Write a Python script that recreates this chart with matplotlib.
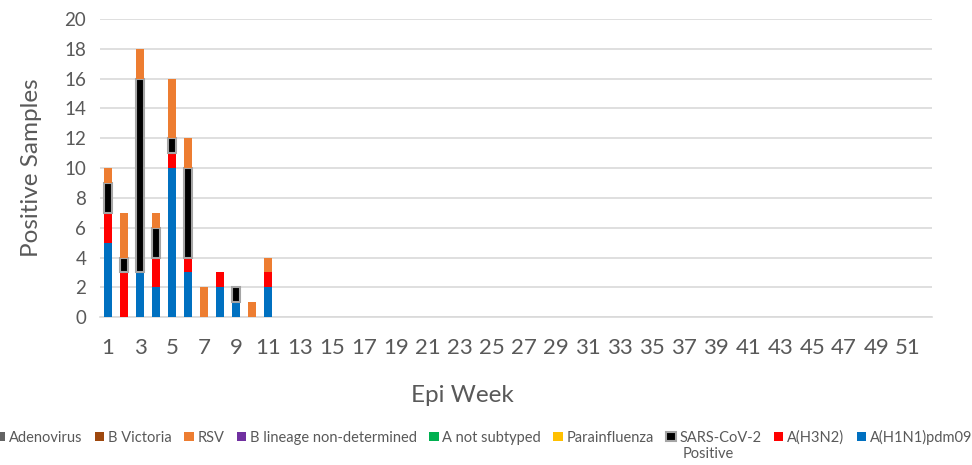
import numpy as np
import matplotlib
matplotlib.use('Agg')
import matplotlib.pyplot as plt

plt.rcParams['font.family'] = ['Lato', 'DejaVu Sans']

# epi weeks shown on the axis (1..52), samples reported for weeks 1-11
n_weeks = 52
weeks = [1, 2, 3, 4, 5, 6, 7, 8, 9, 10, 11]

h1n1 = [5, 0, 3, 2, 10, 3, 0, 2, 1, 0, 2]
h3n2 = [2, 3, 0, 2, 1, 1, 0, 1, 0, 0, 1]
sars = [2, 1, 13, 2, 1, 6, 0, 0, 1, 0, 0]
parainfluenza = [0, 0, 0, 0, 0, 0, 0, 0, 0, 0, 0]
a_not_subtyped = [0, 0, 0, 0, 0, 0, 0, 0, 0, 0, 0]
b_lineage_nd = [0, 0, 0, 0, 0, 0, 0, 0, 0, 0, 0]
rsv = [1, 3, 2, 1, 4, 2, 2, 0, 0, 1, 1]
b_victoria = [0, 0, 0, 0, 0, 0, 0, 0, 0, 0, 0]
adenovirus = [0, 0, 0, 0, 0, 0, 0, 0, 0, 0, 0]

# stacked bottom -> top
series = [
    ('A(H1N1)pdm09', h1n1, '#0070C0', None),
    ('A(H3N2)', h3n2, '#FF0000', None),
    ('SARS-CoV-2', sars, '#000000', '#A5A5A5'),
    ('Parainfluenza', parainfluenza, '#FFC000', None),
    ('A not subtyped', a_not_subtyped, '#00B050', None),
    ('B lineage non-determined', b_lineage_nd, '#7030A0', None),
    ('RSV', rsv, '#ED7D31', None),
    ('B Victoria', b_victoria, '#9E480E', None),
    ('Adenovirus', adenovirus, '#636363', None),
]

fig = plt.figure(figsize=(9.72, 4.65), dpi=100)
ax = fig.add_axes([0.103, 0.318, 0.856, 0.641])

x = np.array(weeks) - 1
bottom = np.zeros(len(weeks))
handles = []
for name, vals, color, edge in series:
    vals = np.array(vals, dtype=float)
    nz = vals > 0
    if edge:
        b = ax.bar(x[nz], vals[nz], 0.5, bottom=bottom[nz], color=color,
                   edgecolor=edge, linewidth=1.5, label=name, zorder=3)
    else:
        b = ax.bar(x[nz], vals[nz], 0.5, bottom=bottom[nz], color=color,
                   linewidth=0, label=name, zorder=3)
    bottom += vals
    handles.append(plt.Rectangle((0, 0), 1, 1, facecolor=color,
                                 edgecolor=edge if edge else 'none',
                                 linewidth=1.5 if edge else 0))

ax.set_xlim(-0.5, n_weeks - 0.5)
ax.set_ylim(0, 20)
ax.set_yticks(range(0, 21, 2))
ax.set_xticks(range(0, n_weeks, 2))
ax.set_xticklabels([str(w) for w in range(1, n_weeks + 1, 2)])
ax.tick_params(axis='both', length=0, colors='#595959')
ax.tick_params(axis='x', labelsize=16, pad=15)
ax.tick_params(axis='y', labelsize=13.5, pad=10)
ax.grid(axis='y', color='#D9D9D9', linewidth=1.2, zorder=0)
for s in ['top', 'right', 'left']:
    ax.spines[s].set_visible(False)
ax.spines['bottom'].set_color('#D9D9D9')
ax.spines['bottom'].set_linewidth(1.2)

ax.set_ylabel('Positive Samples', fontsize=17.5, color='#595959', labelpad=16)
fig.text(0.476, 1 - 396 / 465, 'Epi Week', fontsize=17.5, color='#595959',
         ha='center', va='center')

leg = fig.legend(handles[::-1], [s[0] for s in series][::-1], ncol=9,
                 loc='center', bbox_to_anchor=(0.498, 1 - 437 / 465),
                 frameon=False, fontsize=10.5, handlelength=0.65,
                 handleheight=0.65, handletextpad=0.25, columnspacing=0.85,
                 borderaxespad=0)
for t in leg.get_texts():
    t.set_color('#595959')

# second line of the SARS-CoV-2 legend label
fig.canvas.draw()
sars_txt = [t for t in leg.get_texts() if t.get_text() == 'SARS-CoV-2'][0]
bb = sars_txt.get_window_extent().transformed(fig.transFigure.inverted())
fig.text(bb.x0 + 0.003, bb.y0 - 0.006, 'Positive', fontsize=10.5,
         color='#595959', ha='left', va='top')

fig.savefig('out.png', dpi=100)
